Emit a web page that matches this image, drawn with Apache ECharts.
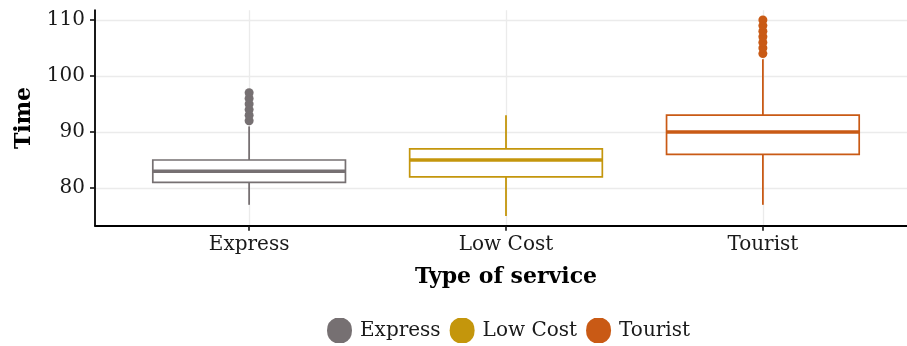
<!DOCTYPE html>
<html>
<head>
<meta charset="utf-8">
<script src="https://cdn.jsdelivr.net/npm/echarts@6/dist/echarts.min.js"></script>
<style>html,body{margin:0;padding:0;background:#fff}#c{width:907px;height:346px}</style>
</head>
<body>
<div id="c"></div>
<script>
const categories = ['Express', 'Low Cost', 'Tourist'];
const colors = ['#767072', '#c4960c', '#c95a15'];
const lowerWhisker = [77, 75, 77];
const q1 = [81, 82, 86];
const median = [83, 85, 90];
const q3 = [85, 87, 93];
const upperWhisker = [91, 93, 103];
const outliersExpress = [92, 93, 94, 95, 96, 97];
const outliersLowCost = [];
const outliersTourist = [104, 105, 106, 107, 108, 109, 110];
const yTicks = [80, 90, 100, 110];
const xTicks = [1, 2, 3];

const outliers = [outliersExpress, outliersLowCost, outliersTourist];
const FONT = 'DejaVu Serif';
const LEGEND_ICON = 'path://M33,0 L67,0 Q100,12 100,50 Q100,88 67,100 L33,100 Q0,88 0,50 Q0,12 33,0 Z';

function renderBox(params, api) {
  const x = api.value(0);
  const pLo = api.coord([x, api.value(1)]);
  const pQ1 = api.coord([x, api.value(2)]);
  const pMed = api.coord([x, api.value(3)]);
  const pQ3 = api.coord([x, api.value(4)]);
  const pHi = api.coord([x, api.value(5)]);
  const half = api.size([0.75, 0])[0] / 2;
  const color = api.visual('color');
  const cx = pMed[0];
  return {
    type: 'group',
    children: [
      { type: 'line', shape: { x1: cx, y1: pQ1[1], x2: cx, y2: pLo[1] }, style: { stroke: color, lineWidth: 1.8 } },
      { type: 'line', shape: { x1: cx, y1: pQ3[1], x2: cx, y2: pHi[1] }, style: { stroke: color, lineWidth: 1.8 } },
      { type: 'rect', shape: { x: cx - half, y: pQ3[1], width: half * 2, height: pQ1[1] - pQ3[1] }, style: { fill: '#fff', stroke: color, lineWidth: 1.7 } },
      { type: 'line', shape: { x1: cx - half, y1: pMed[1], x2: cx + half, y2: pMed[1] }, style: { stroke: color, lineWidth: 3.4 } }
    ]
  };
}

const series = [];
categories.forEach((name, i) => {
  series.push({
    name: name,
    type: 'custom',
    renderItem: renderBox,
    itemStyle: { color: colors[i] },
    encode: { x: 0, y: [1, 2, 3, 4, 5] },
    data: [[xTicks[i], lowerWhisker[i], q1[i], median[i], q3[i], upperWhisker[i]]],
    z: 3
  });
  series.push({
    name: name,
    type: 'scatter',
    symbol: 'circle',
    symbolSize: 9,
    itemStyle: { color: colors[i], opacity: 1 },
    data: outliers[i].map(v => [xTicks[i], v]),
    z: 4
  });
});

const chart = echarts.init(document.getElementById('c'), null, { renderer: 'canvas' });
chart.setOption({
  animation: false,
  backgroundColor: '#fff',
  textStyle: { fontFamily: FONT },
  grid: { left: 95, top: 10.2, width: 822, height: 215.6, outerBoundsMode: 'none', containLabel: false },
  legend: {
    top: 318, left: 327, padding: 0,
    icon: LEGEND_ICON, itemWidth: 25, itemHeight: 28, itemGap: 9,
    data: categories,
    textStyle: { fontFamily: FONT, fontSize: 20, color: '#1a1a1a', padding: [0, 0, 0, 3] }
  },
  xAxis: {
    type: 'value', min: 0.4, max: 3.6,
    name: 'Type of service', nameLocation: 'middle', nameGap: 40,
    nameTextStyle: { fontFamily: FONT, fontSize: 22, fontWeight: 'bold', color: '#000' },
    axisLine: { show: true, onZero: false, lineStyle: { color: '#000', width: 1.8 } },
    axisTick: { show: true, length: 5, customValues: xTicks, lineStyle: { color: '#111', width: 1.6 } },
    axisLabel: { customValues: xTicks, margin: 9, fontFamily: FONT, fontSize: 20, color: '#1a1a1a', formatter: v => categories[Math.round(v) - 1] || '' },
    splitLine: { show: true, lineStyle: { color: '#ebebeb', width: 1.3 } }
  },
  yAxis: {
    type: 'value', min: 73.25, max: 111.75,
    name: 'Time', nameLocation: 'middle', nameGap: 60, nameRotate: 90,
    nameTextStyle: { fontFamily: FONT, fontSize: 22, fontWeight: 'bold', color: '#000' },
    axisLine: { show: true, onZero: false, lineStyle: { color: '#000', width: 1.8 } },
    axisTick: { show: true, length: 5, customValues: yTicks, lineStyle: { color: '#111', width: 1.6 } },
    axisLabel: { customValues: yTicks, margin: 10, fontFamily: FONT, fontSize: 20, color: '#1a1a1a' },
    splitLine: { show: true, lineStyle: { color: '#ebebeb', width: 1.3 } }
  },
  series: series
});
</script>
</body>
</html>
